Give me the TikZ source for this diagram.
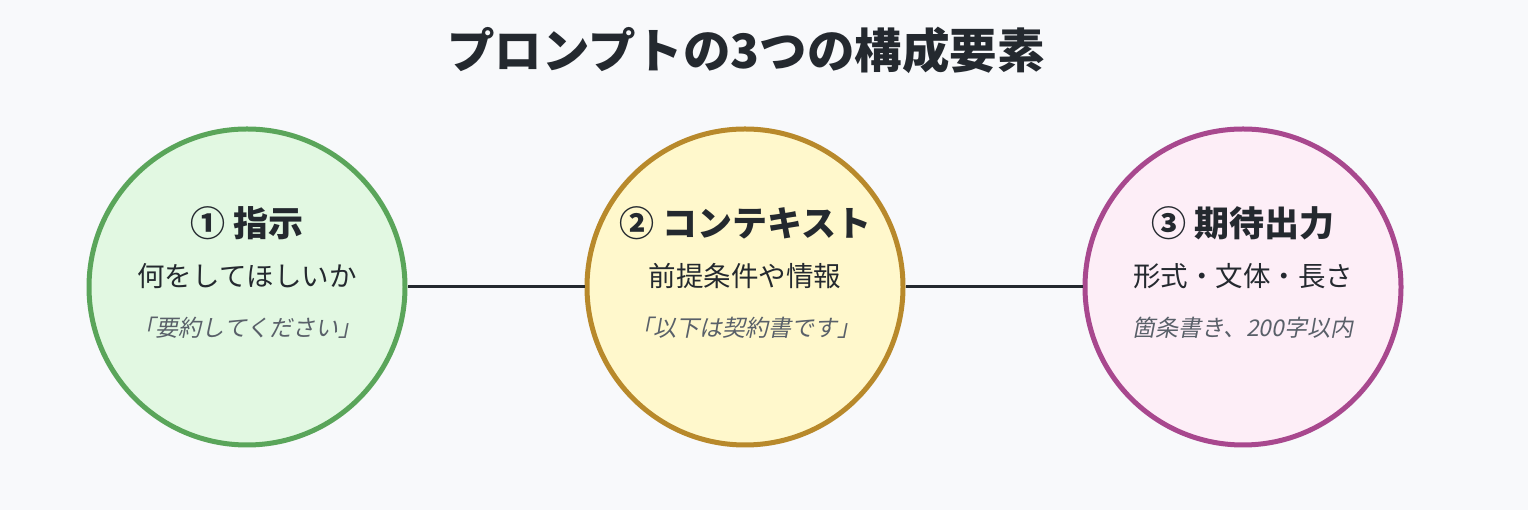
\documentclass[tikz,border=0pt]{standalone}
\usepackage{fontspec}
\setmainfont{Noto Sans CJK JP}
\newfontfamily\slantjp[FakeSlant=0.2]{Noto Sans CJK JP}
\usetikzlibrary{positioning}

\definecolor{bg}{HTML}{F8F9FB}
\definecolor{ink}{HTML}{24292F}
\definecolor{note}{HTML}{596069}
\definecolor{grline}{HTML}{5AA55A}
\definecolor{grfill}{HTML}{E2F8E2}
\definecolor{yeline}{HTML}{B8892B}
\definecolor{yefill}{HTML}{FFF8CC}
\definecolor{piline}{HTML}{A8488E}
\definecolor{pifill}{HTML}{FDEEF7}

\begin{document}
\begin{tikzpicture}[x=1pt,y=1pt,
 ring/.style={circle,line width=5pt,minimum size=316pt,inner sep=0pt},
 head/.style={font=\fontsize{35}{42}\selectfont\bfseries,text=ink,inner sep=0pt},
 sub/.style={font=\fontsize{27.5}{33}\selectfont,text=ink,inner sep=0pt},
 eg/.style={font=\fontsize{23}{28}\selectfont\slantjp,text=note,inner sep=0pt}]
 % background
 \fill[bg] (0,0) rectangle (1528,510);
 \useasboundingbox (0,0) rectangle (1528,510);

 % title
 \node (title) at (746,460) [font=\fontsize{47.5}{57}\selectfont\bfseries,text=ink] {プロンプトの3つの構成要素};

 % circles
 \foreach \i/\x/\c/\h/\s/\e in {
  1/247/gr/{① 指示}/{何をしてほしいか}/{「要約してください」},
  2/745/ye/{② コンテキスト}/{前提条件や情報}/{「以下は契約書です」},
  3/1243/pi/{③ 期待出力}/{形式・文体・長さ}/{箇条書き、200字以内}} {
  \node (c\i) at (\x,223) [ring,draw=\c line,fill=\c fill] {};
  \node (h\i) at ([yshift=64]c\i.center) [head] {\h};
  \node (s\i) at ([yshift=11]c\i.center) [sub] {\s};
  \node (e\i) at ([yshift=-41]c\i.center) [eg] {\e};
 }

 % connectors
 \draw[ink,line width=3pt] (c1) -- (c2);
 \draw[ink,line width=3pt] (c2) -- (c3);
\end{tikzpicture}
\end{document}
